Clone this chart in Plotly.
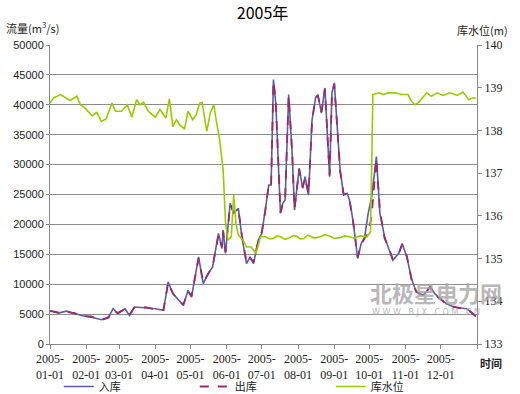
import plotly.graph_objects as go

# ---------------- data ----------------
flow_dates = [
    "2005-01-01", "2005-01-08", "2005-01-15", "2005-01-22", "2005-01-28", "2005-02-05",
    "2005-02-14", "2005-02-20", "2005-02-24", "2005-02-28", "2005-03-06", "2005-03-10",
    "2005-03-14", "2005-03-23", "2005-04-01", "2005-04-08", "2005-04-12", "2005-04-16",
    "2005-04-20", "2005-04-25", "2005-04-29", "2005-05-02", "2005-05-08", "2005-05-12",
    "2005-05-16", "2005-05-20", "2005-05-23", "2005-05-25", "2005-05-28", "2005-05-29",
    "2005-05-31", "2005-06-04", "2005-06-07", "2005-06-11", "2005-06-14", "2005-06-18",
    "2005-06-21", "2005-06-24", "2005-06-28", "2005-07-01", "2005-07-04", "2005-07-07",
    "2005-07-09", "2005-07-11", "2005-07-13", "2005-07-17", "2005-07-19", "2005-07-21",
    "2005-07-24", "2005-07-27", "2005-07-29", "2005-08-02", "2005-08-05", "2005-08-07",
    "2005-08-10", "2005-08-13", "2005-08-16", "2005-08-18", "2005-08-21", "2005-08-24",
    "2005-08-28", "2005-08-30", "2005-09-01", "2005-09-03", "2005-09-06", "2005-09-09",
    "2005-09-12", "2005-09-14", "2005-09-17", "2005-09-21", "2005-09-24", "2005-09-27",
    "2005-09-30", "2005-10-03", "2005-10-07", "2005-10-10", "2005-10-14", "2005-10-19",
    "2005-10-21", "2005-10-26", "2005-10-29", "2005-11-02", "2005-11-06", "2005-11-10",
    "2005-11-16", "2005-11-22", "2005-11-26", "2005-11-30", "2005-12-06", "2005-12-12",
    "2005-12-17", "2005-12-23", "2005-12-29", "2005-12-31",
]
inflow = [
    5620, 5170, 5500, 5060, 4780, 4500,
    4060, 4500, 5900, 5060, 5900, 4780,
    6180, 6070, 5900, 5620, 10370, 8420,
    7580, 6460, 8980, 7850, 14570, 10100,
    11780, 12890, 16240, 18490, 15970, 19040,
    15130, 23530, 21850, 22690, 17920, 13460,
    14570, 13460, 17370, 18490, 22400, 26600,
    26600, 44210, 40300, 21850, 23530, 24080,
    41700, 31920, 22400, 29400, 26040, 27990,
    24920, 37500, 41140, 41700, 38630, 42820,
    27990, 41980, 43660, 37500, 29110, 24920,
    25200, 24080, 20720, 14300, 16810, 17920,
    21850, 24640, 31340, 21850, 17920, 15130,
    14010, 15130, 16810, 14570, 10940, 8700,
    8140, 9530, 8420, 7580, 6740, 6180,
    6070, 5900, 5060, 4610,
]
outflow = [
    5500, 5300, 5350, 5150, 4700, 4600,
    4000, 4400, 5700, 5200, 5800, 4900,
    6050, 6150, 5800, 5700, 10300, 8500,
    7400, 6600, 8800, 8000, 14300, 10300,
    11600, 13100, 16000, 18300, 16200, 18800,
    15400, 23300, 22000, 22500, 18200, 13600,
    14400, 13700, 17100, 18700, 22200, 26700,
    26400, 44000, 40500, 22000, 23400, 24200,
    41500, 32100, 22600, 29200, 26200, 27800,
    25100, 37300, 41300, 41500, 38800, 42600,
    28200, 41800, 43500, 37700, 28900, 25100,
    25000, 24200, 20500, 14500, 16600, 17700,
    18500, 21500, 31000, 22300, 17700, 15300,
    14200, 15000, 16600, 14700, 10800, 8800,
    8000, 9600, 8300, 7700, 6600, 6250,
    6000, 5950, 5000, 4650,
]

level_dates = [
    "2005-01-01", "2005-01-04", "2005-01-10", "2005-01-14", "2005-01-18", "2005-01-24",
    "2005-01-27", "2005-01-31", "2005-02-06", "2005-02-10", "2005-02-14", "2005-02-18",
    "2005-02-23", "2005-02-26", "2005-03-03", "2005-03-08", "2005-03-12", "2005-03-16",
    "2005-03-19", "2005-03-22", "2005-03-26", "2005-04-01", "2005-04-05", "2005-04-10",
    "2005-04-13", "2005-04-16", "2005-04-19", "2005-04-22", "2005-04-26", "2005-04-29",
    "2005-05-03", "2005-05-06", "2005-05-09", "2005-05-11", "2005-05-15", "2005-05-18",
    "2005-05-21", "2005-05-23", "2005-05-26", "2005-05-29", "2005-05-31", "2005-06-02",
    "2005-06-05", "2005-06-07", "2005-06-09", "2005-06-11", "2005-06-15", "2005-06-18",
    "2005-06-22", "2005-06-26", "2005-06-30", "2005-07-04", "2005-07-08", "2005-07-11",
    "2005-07-14", "2005-07-17", "2005-07-21", "2005-07-25", "2005-07-28", "2005-07-31",
    "2005-08-03", "2005-08-06", "2005-08-09", "2005-08-11", "2005-08-15", "2005-08-20",
    "2005-08-24", "2005-08-28", "2005-09-01", "2005-09-06", "2005-09-10", "2005-09-14",
    "2005-09-18", "2005-09-23", "2005-09-29", "2005-10-02", "2005-10-03", "2005-10-04",
    "2005-10-09", "2005-10-13", "2005-10-17", "2005-10-23", "2005-10-29", "2005-11-03",
    "2005-11-06", "2005-11-09", "2005-11-13", "2005-11-19", "2005-11-23", "2005-11-28",
    "2005-12-03", "2005-12-09", "2005-12-15", "2005-12-20", "2005-12-25", "2005-12-28",
    "2005-12-31",
]
level = [
    138.64, 138.76, 138.84, 138.76, 138.70, 138.80,
    138.60, 138.52, 138.34, 138.42, 138.21, 138.27,
    138.64, 138.45, 138.45, 138.60, 138.31, 138.72,
    138.60, 138.66, 138.45, 138.31, 138.49, 138.29,
    138.74, 138.09, 138.25, 138.13, 138.03, 138.45,
    138.25, 138.37, 138.64, 138.66, 137.98, 138.41,
    138.60, 138.25, 137.78, 137.08, 135.86, 135.43,
    135.51, 136.49, 135.82, 135.55, 135.43, 135.27,
    135.27, 135.12, 135.51, 135.51, 135.46, 135.47,
    135.53, 135.51, 135.45, 135.49, 135.54, 135.52,
    135.46, 135.47, 135.55, 135.53, 135.48, 135.51,
    135.56, 135.53, 135.47, 135.49, 135.53, 135.51,
    135.48, 135.53, 135.51, 135.63, 137.08, 138.84,
    138.88, 138.84, 138.88, 138.88, 138.84, 138.84,
    138.68, 138.60, 138.68, 138.88, 138.80, 138.88,
    138.82, 138.88, 138.82, 138.90, 138.72, 138.76,
    138.76,
]

month_ticks = [
    "2005-01-01", "2005-02-01", "2005-03-01", "2005-04-01", "2005-05-01", "2005-06-01",
    "2005-07-01", "2005-08-01", "2005-09-01", "2005-10-01", "2005-11-01", "2005-12-01",
    "2006-01-01",
]
month_labels = [
    "2005-<br>01-01", "2005-<br>02-01", "2005-<br>03-01", "2005-<br>04-01",
    "2005-<br>05-01", "2005-<br>06-01", "2005-<br>07-01", "2005-<br>08-01",
    "2005-<br>09-01", "2005-<br>10-01", "2005-<br>11-01", "2005-<br>12-01", "",
]

CJK = "Noto Sans CJK SC"
SERIF = "Liberation Serif"

fig = go.Figure()
fig.add_trace(go.Scatter(
    x=flow_dates, y=inflow, name="入库", mode="lines",
    line=dict(color="#5D5BA6", width=1.6),
))
fig.add_trace(go.Scatter(
    x=flow_dates, y=outflow, name="出库", mode="lines",
    line=dict(color="#9A2A66", width=1.8, dash="dash"),
))
fig.add_trace(go.Scatter(
    x=level_dates, y=level, name="库水位", mode="lines", yaxis="y2",
    line=dict(color="#99CC00", width=1.6),
))

# watermark
fig.add_annotation(text="<b>北极星电力网</b>", xref="paper", yref="paper", x=0.905, y=0.173,
                   xanchor="center", yanchor="middle",
                   showarrow=False, font=dict(family=CJK, size=22, color="rgba(165,165,165,0.8)"))
fig.add_annotation(text="W W W . B J X . C O M . C N", xref="paper", yref="paper", x=0.88, y=0.105,
                   xanchor="center", yanchor="middle",
                   showarrow=False, font=dict(family="DejaVu Sans", size=8, color="rgba(165,165,165,0.8)"))

fig.add_annotation(text="流量(m<sup>3</sup>/s)", xref="paper", yref="paper", x=-0.107, y=1.06,
                   xanchor="left", yanchor="middle", showarrow=False,
                   font=dict(family=CJK, size=11, color="#222"))
fig.add_annotation(text="库水位(m)", xref="paper", yref="paper", x=1.014, y=1.05,
                   xanchor="center", yanchor="middle", showarrow=False,
                   font=dict(family=CJK, size=11, color="#222"))
fig.add_annotation(text="<b>时间</b>", xref="paper", yref="paper", x=1.002, y=-0.03,
                   xanchor="left", yanchor="top", showarrow=False,
                   font=dict(family=CJK, size=11, color="#222"))

fig.update_layout(
    width=520, height=394,
    margin=dict(l=50, r=43, t=45, b=50, autoexpand=False),
    paper_bgcolor="white", plot_bgcolor="white",
    title=dict(text="2005年", x=0.505, xanchor="center", y=0.965, yanchor="middle",
               font=dict(family=CJK, size=16, color="black")),
    showlegend=True,
    legend=dict(orientation="h", xref="container", yref="container",
                x=0.113, y=0.019, xanchor="left", yanchor="middle",
                entrywidth=91, entrywidthmode="pixels",
                font=dict(family=CJK, size=11, color="#222"), bgcolor="rgba(0,0,0,0)"),
    xaxis=dict(
        type="date", range=["2005-01-01", "2006-01-01"],
        tickmode="array", tickvals=month_ticks, ticktext=month_labels,
        ticks="outside", ticklen=4, tickcolor="#888",
        showline=True, linecolor="#888", linewidth=1, showgrid=False, zeroline=False,
        tickfont=dict(family=SERIF, size=12, color="#222"),
    ),
    yaxis=dict(
        range=[0, 50000], dtick=5000, tickmode="linear", tickformat="d",
        ticks="outside", ticklen=3, tickcolor="#888",
        showline=True, linecolor="#888", linewidth=1,
        showgrid=True, gridcolor="#8c8c8c", gridwidth=1, zeroline=False,
        tickfont=dict(family="Liberation Sans", size=11, color="#222"),
    ),
    yaxis2=dict(
        range=[133, 140], dtick=1, tickmode="linear", overlaying="y", side="right",
        ticks="outside", ticklen=4, tickcolor="#888",
        showline=True, linecolor="#888", linewidth=1, showgrid=False, zeroline=False,
        tickfont=dict(family=SERIF, size=12, color="#222"),
    ),
)

fig.write_html(
    "out.html",
    config={"displayModeBar": False},
    post_script="document.body.style.margin='0';document.body.style.overflow='hidden';",
)
